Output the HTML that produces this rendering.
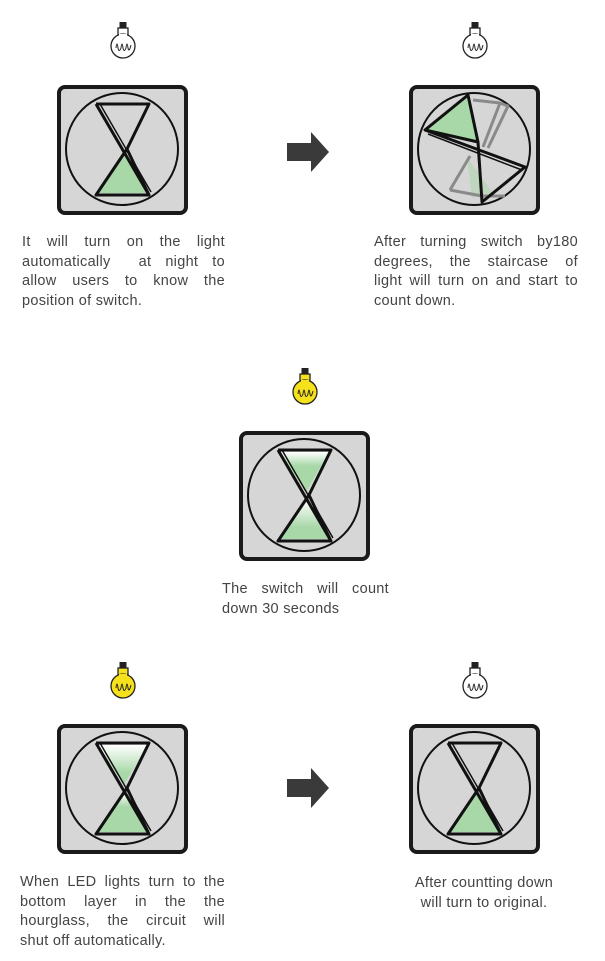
<!DOCTYPE html>
<html><head><meta charset="utf-8"><style>
body{margin:0;background:#fff;width:605px;height:961px;position:relative;overflow:hidden;font-family:"Liberation Sans",sans-serif;}
.t{position:absolute;font-size:14.5px;line-height:19.5px;color:#444;text-align:justify;letter-spacing:0.3px;}
.t span{display:block;text-align-last:justify}
.t span.l{text-align-last:left}
svg{position:absolute}
</style></head><body>
<svg width="605" height="961" style="left:0;top:0">
<defs>
<linearGradient id="gt" x1="0" y1="0" x2="0" y2="1"><stop offset="0" stop-color="#fff"/><stop offset="0.35" stop-color="#a8d8a8"/></linearGradient>
<linearGradient id="gb" x1="0" y1="0" x2="0" y2="1"><stop offset="0" stop-color="#fff"/><stop offset="0.7" stop-color="#a8d8a8"/></linearGradient>
<g id="box">
<rect x="1" y="1" width="127" height="126" rx="6" fill="#d6d6d6" stroke="#1a1a1a" stroke-width="4"/>
<circle cx="64" cy="63" r="56" fill="none" stroke="#111" stroke-width="2"/>
</g>
<g id="hg" fill="none" stroke="#111" stroke-width="3" stroke-linejoin="round">
<path d="M38 18 L91 18 L69 63 L91 109 L38 109 L69 63 M38 18 L91 109"/>
<path d="M42 18 L93 106" stroke-width="1.5"/>
</g>
<g id="bulb">
<rect x="-3.5" y="-22" width="7" height="6" fill="#222"/>
<rect x="-5" y="-16" width="10" height="8" stroke="#222" stroke-width="1.3"/>
<circle cx="0" cy="2" r="12" stroke="#222" stroke-width="1.3"/>
<rect x="-4" y="-10" width="8" height="4"/>
<path d="M-7 4 q1 -8 2 0 q1 5 3 0 q1 -8 2 0 q1 5 3 0 q1 -8 2 0 q1 5 3 -3" fill="none" stroke="#222" stroke-width="1"/>
</g>
<g id="arr"><path d="M0 11 L24 11 L24 0 L42 20 L24 40 L24 29 L0 29 Z" fill="#3a3a3a"/></g>
</defs>

<use href="#bulb" x="123" y="44" fill="#fff"/>
<use href="#bulb" x="475" y="44" fill="#fff"/>
<use href="#bulb" x="305" y="390" fill="#f5e11c"/>
<use href="#bulb" x="123" y="684" fill="#f5e11c"/>
<use href="#bulb" x="475" y="684" fill="#fff"/>

<g transform="translate(58,86)"><use href="#box"/><path d="M40 107 L89 107 L66 68 Z" fill="#a8d8a8"/><use href="#hg"/></g>

<g transform="translate(410,86)"><use href="#box"/>
<path d="M57 71 L83 107 L62 112 Z" fill="#b8d4b8" opacity="0.8"/>
<g fill="none" stroke="#8a8a8a" stroke-width="3" stroke-linejoin="round"><path d="M63 14 L90 17 L73 61 M90 17 L98 20 L78 62"/><path d="M40 104 L72 110 L95 110 M40 104 L60 70"/></g>
<path d="M15 44 L58 9 L68 56 Z" fill="#a8d8a8"/>
<g fill="none" stroke="#111" stroke-width="3" stroke-linejoin="round"><path d="M15 44 L58 9 L68 56 L15 44 L115 81 L72 116 L68 56"/><path d="M18 48 L112 84" stroke-width="1.5"/></g>
</g>

<g transform="translate(240,432)"><use href="#box"/><path d="M40 20 L89 20 L66 60 Z" fill="url(#gt)"/><path d="M40 107 L89 107 L66 68 Z" fill="url(#gb)"/><use href="#hg"/></g>

<g transform="translate(58,725)"><use href="#box"/><path d="M40 20 L89 20 L66 60 Z" fill="url(#gb)"/><path d="M40 107 L89 107 L66 68 Z" fill="url(#gt)"/><use href="#hg"/></g>

<g transform="translate(410,725)"><use href="#box"/><path d="M40 107 L89 107 L66 68 Z" fill="#a8d8a8"/><use href="#hg"/></g>

<use href="#arr" x="287" y="132"/>
<use href="#arr" x="287" y="768"/>
</svg>

<div class="t" style="left:22px;top:233px;width:203px"><span>It will turn on the light</span><span>automatically &nbsp;at night to</span><span>allow users to know the</span><span class="l">position of switch.</span></div>
<div class="t" style="left:374px;top:233px;width:204px"><span>After turning switch by180</span><span>degrees, the staircase of</span><span>light will turn on and start to</span><span class="l">count down.</span></div>
<div class="t" style="left:222px;top:580px;width:167px"><span>The switch will count</span><span class="l">down 30 seconds</span></div>
<div class="t" style="left:20px;top:873px;width:205px"><span>When LED lights turn to the</span><span>bottom layer in the the</span><span>hourglass, the circuit will</span><span class="l">shut off automatically.</span></div>
<div class="t" style="left:400px;top:874px;width:168px;text-align:center"><span style="text-align-last:center">After countting down</span><span style="text-align-last:center">will turn to original.</span></div>
</body></html>
